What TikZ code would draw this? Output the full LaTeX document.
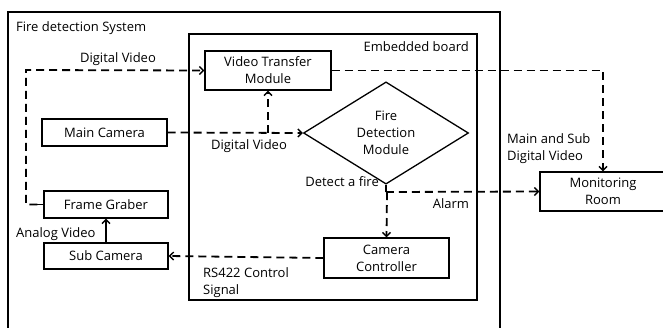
\documentclass[tikz,border=0pt]{standalone}
\usepackage{fontspec}
\setmainfont{Open Sans}
\usetikzlibrary{arrows.meta,shapes.geometric,calc}
\begin{document}
\begin{tikzpicture}[x=1pt,y=-1pt,
  font=\fontsize{13}{17}\selectfont,
  box/.style={draw,line width=1.3pt,inner sep=0pt,align=center},
  flow/.style={draw,line width=1.8pt,dash pattern=on 8pt off 5pt,-{Straight Barb[length=4pt,width=8pt,line width=1.4pt]}},
  lbl/.style={inner sep=0pt,align=left}]
\useasboundingbox (0,0) rectangle (663,327);
% outer system box (open at the bottom)
\draw[line width=1.3pt] (8,340) -- (8,12) -- (500,12) -- (500,340);
\node[lbl,anchor=west] (sys) at (16,28) {Fire detection System};
% embedded board
\draw[line width=1.3pt] (189,34) rectangle (477,300);
\node[lbl,anchor=east] (emb) at (469,47) {Embedded board};
% nodes
\node[box,minimum width=126,minimum height=39] (vtm) at (268,70.5) {Video Transfer\\Module};
\node[box,minimum width=125,minimum height=27] (mc) at (104.5,132.5) {Main Camera};
\node[diamond,draw,line width=1.3pt,minimum width=165,minimum height=75,inner sep=0pt,align=center] (fdm) at (386,133) {Fire\\Detection\\Module};
\node[box,minimum width=124,minimum height=27] (fg) at (106,204.5) {Frame Graber};
\node[box,minimum width=124,minimum height=26] (sc) at (106,256) {Sub Camera};
\node[box,minimum width=125,minimum height=40] (cc) at (386.5,258) {Camera\\Controller};
\node[box,minimum width=126,minimum height=39] (mr) at (603,191.5) {Monitoring\\Room};
% connectors
\coordinate (fgl) at (26,70);
\draw[line width=1.3pt] (fg.west) -- ++(-6,0);
\draw[flow] ($(fg.west)+(-6,0)$) -| (fgl) -- (vtm.west);
\node[lbl] (dv1) at (118,59) {Digital Video};
\draw[flow] (mc.east) -- (fdm.west);
\coordinate (br) at (268,133);
\draw[flow] (br) -- (vtm.south);
\node[lbl] (dv2) at (249,146) {Digital Video};
\draw[flow] (vtm.east) -| (mr.north);
\node[lbl,anchor=north west] (msdv) at (507,133) {Main and Sub\\Digital Video};
\coordinate (sp) at (387,192);
\draw[line width=1.3pt] (fdm.south) -- ++(0,7);
\draw[flow] ($(fdm.south)+(0,7)$) -- (sp) -- (mr.west);
\draw[flow] (sp) -- (cc.north);
\node[lbl,anchor=east] (daf) at (379,182) {Detect a fire};
\node[lbl] (alarm) at (451,204) {Alarm};
\draw[flow] (cc.west) -- (sc.east);
\node[lbl,anchor=north west] (rs) at (203,267) {RS422 Control\\Signal};
\draw[line width=1.3pt,-{Straight Barb[length=4pt,width=8pt,line width=1.4pt]}] (sc.north) -- (fg.south);
\node[lbl,anchor=west] (av) at (16,234) {Analog Video};
\end{tikzpicture}
\end{document}
